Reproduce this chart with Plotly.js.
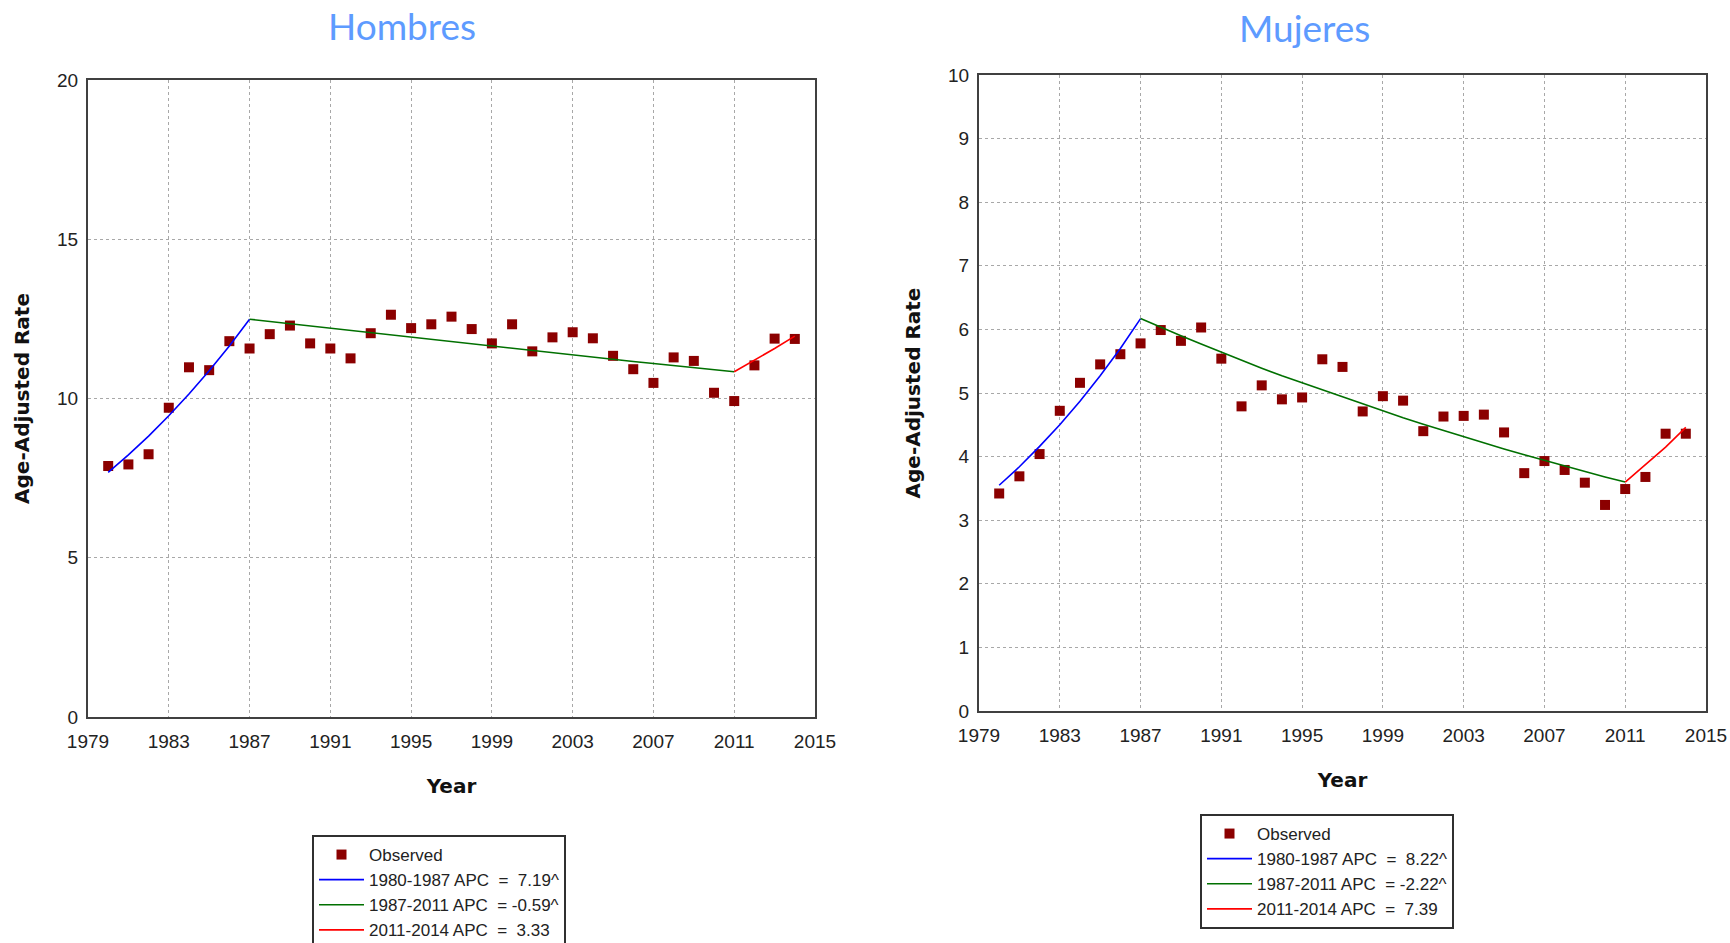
<!DOCTYPE html>
<html>
<head>
<meta charset="utf-8">
<script src="https://cdn.plot.ly/plotly-3.0.1.min.js"></script>
<style>
  html, body { margin: 0; padding: 0; background: #ffffff; }
  #chart { width: 1730px; height: 943px; }
</style>
</head>
<body>
<div id="chart"></div>
<script>
// ---------------- data ----------------
const years = [1980,1981,1982,1983,1984,1985,1986,1987,1988,1989,1990,1991,1992,1993,1994,1995,1996,1997,1998,1999,2000,2001,2002,2003,2004,2005,2006,2007,2008,2009,2010,2011,2012,2013,2014];

const hombresObserved = [7.88,7.93,8.25,9.71,10.98,10.89,11.80,11.57,12.02,12.29,11.73,11.57,11.26,12.05,12.63,12.21,12.33,12.57,12.18,11.73,12.33,11.48,11.92,12.08,11.89,11.34,10.92,10.49,11.29,11.18,10.18,9.92,11.04,11.88,11.87];
const mujeresObserved = [3.42,3.69,4.04,4.72,5.16,5.45,5.61,5.78,5.99,5.82,6.03,5.54,4.79,5.12,4.90,4.93,5.53,5.41,4.71,4.95,4.88,4.40,4.63,4.64,4.66,4.38,3.74,3.93,3.79,3.59,3.24,3.49,3.68,4.36,4.36];

const seg1Years = [1980,1981,1982,1983,1984,1985,1986,1987];
const seg2Years = [1987,1988,1989,1990,1991,1992,1993,1994,1995,1996,1997,1998,1999,2000,2001,2002,2003,2004,2005,2006,2007,2008,2009,2010,2011];
const seg3Years = [2011,2012,2013,2014];

const hombresFit1 = [7.68,8.23,8.82,9.46,10.14,10.87,11.65,12.49];
const hombresFit2 = [12.49,12.42,12.34,12.27,12.20,12.13,12.06,11.98,11.91,11.84,11.77,11.70,11.64,11.57,11.50,11.43,11.36,11.30,11.23,11.16,11.10,11.03,10.97,10.90,10.84];
const hombresFit3 = [10.84,11.20,11.57,11.96];

const mujeresFit1 = [3.55,3.84,4.16,4.50,4.87,5.27,5.70,6.17];
const mujeresFit2 = [6.17,6.03,5.90,5.77,5.64,5.52,5.39,5.27,5.16,5.04,4.93,4.82,4.71,4.61,4.51,4.41,4.31,4.21,4.12,4.03,3.94,3.85,3.77,3.68,3.60];
const mujeresFit3 = [3.60,3.87,4.15,4.46];

const hombresLabels = ["Observed", "1980-1987 APC\u00a0\u00a0=\u00a0\u00a07.19^", "1987-2011 APC\u00a0\u00a0=\u00a0-0.59^", "2011-2014 APC\u00a0\u00a0=\u00a0\u00a03.33"];
const mujeresLabels = ["Observed", "1980-1987 APC\u00a0\u00a0=\u00a0\u00a08.22^", "1987-2011 APC\u00a0\u00a0=\u00a0-2.22^", "2011-2014 APC\u00a0\u00a0=\u00a0\u00a07.39"];

const panelTitles = ["Hombres", "Mujeres"];
const xTicks = [1979,1983,1987,1991,1995,1999,2003,2007,2011,2015];
const yTicksH = [0,5,10,15,20];
const yTicksM = [0,1,2,3,4,5,6,7,8,9,10];

// ---------------- styles ----------------
const markerColor = '#8b0000';
const c1 = '#0000ff', c2 = '#007000', c3 = '#ff0000';
const tickFont = { family: 'Liberation Sans, Arial, sans-serif', size: 19, color: '#222222' };
const axTitleFont = { family: 'DejaVu Sans, Verdana, sans-serif', size: 20, color: '#111111', weight: 'bold' };

function obs(y, xa, ya, leg, name) {
  return { x: years, y: y, xaxis: xa, yaxis: ya, legend: leg, name: name, type: 'scatter', mode: 'markers',
    marker: { symbol: 'square', size: 10, color: markerColor } };
}
function fit(x, y, xa, ya, leg, name, color) {
  return { x: x, y: y, xaxis: xa, yaxis: ya, legend: leg, name: name, type: 'scatter', mode: 'lines',
    line: { color: color, width: 1.6 } };
}

const traces = [
  obs(hombresObserved, 'x', 'y', 'legend', hombresLabels[0]),
  fit(seg1Years, hombresFit1, 'x', 'y', 'legend', hombresLabels[1], c1),
  fit(seg2Years, hombresFit2, 'x', 'y', 'legend', hombresLabels[2], c2),
  fit(seg3Years, hombresFit3, 'x', 'y', 'legend', hombresLabels[3], c3),
  obs(mujeresObserved, 'x2', 'y2', 'legend2', mujeresLabels[0]),
  fit(seg1Years, mujeresFit1, 'x2', 'y2', 'legend2', mujeresLabels[1], c1),
  fit(seg2Years, mujeresFit2, 'x2', 'y2', 'legend2', mujeresLabels[2], c2),
  fit(seg3Years, mujeresFit3, 'x2', 'y2', 'legend2', mujeresLabels[3], c3)
];

const W = 1730, H = 943;
function xAxis(l, r, anchor) {
  return {
    domain: [l / W, r / W], anchor: anchor, range: [1979, 2015], tickmode: 'array', tickvals: xTicks,
    showgrid: true, gridcolor: '#a8a8a8', griddash: 'dot', gridwidth: 1,
    showline: true, linecolor: '#404040', linewidth: 2, mirror: true, zeroline: false,
    ticks: '', tickfont: tickFont, ticklabelstandoff: 6,
    title: { text: 'Year', font: axTitleFont, standoff: 28 }
  };
}
function yAxis(t, b, anchor, max, vals) {
  return {
    domain: [1 - b / H, 1 - t / H], anchor: anchor, range: [0, max], tickmode: 'array', tickvals: vals,
    showgrid: true, gridcolor: '#a8a8a8', griddash: 'dot', gridwidth: 1,
    showline: true, linecolor: '#404040', linewidth: 2, mirror: true, zeroline: false,
    ticks: '', tickfont: tickFont, ticklabelstandoff: 4,
    title: { text: 'Age-Adjusted Rate', font: axTitleFont, standoff: 22 }
  };
}

const legendBase = {
  xanchor: 'left', yanchor: 'top', bgcolor: '#ffffff', bordercolor: '#303030', borderwidth: 2,
  font: { family: 'Liberation Sans, Arial, sans-serif', size: 17, color: '#222222' },
  tracegroupgap: 0, traceorder: 'normal', itemclick: false, itemdoubleclick: false, itemwidth: 45
};

const layout = {
  width: W, height: H,
  margin: { l: 0, r: 0, t: 0, b: 0, autoexpand: false },
  paper_bgcolor: '#ffffff', plot_bgcolor: '#ffffff',
  showlegend: true,
  xaxis: xAxis(88, 815, 'y'),
  yaxis: yAxis(80, 717, 'x', 20, yTicksH),
  xaxis2: xAxis(979, 1706, 'y2'),
  yaxis2: yAxis(75, 711, 'x2', 10, yTicksM),
  legend: Object.assign({}, legendBase, { x: 312 / W, y: 1 - 835 / H }),
  legend2: Object.assign({}, legendBase, { x: 1200 / W, y: 1 - 814 / H }),
  annotations: [
    { text: panelTitles[0], xref: 'paper', yref: 'paper', x: 402 / W, y: 1 - 25 / H, xanchor: 'center', yanchor: 'middle',
      showarrow: false, font: { family: 'Lato, Open Sans, sans-serif', size: 37, color: '#5e9bff' } },
    { text: panelTitles[1], xref: 'paper', yref: 'paper', x: 1304 / W, y: 1 - 28 / H, xanchor: 'center', yanchor: 'middle',
      showarrow: false, font: { family: 'Lato, Open Sans, sans-serif', size: 37, color: '#5e9bff' } }
  ]
};

Plotly.newPlot('chart', traces, layout, { displayModeBar: false, staticPlot: true });
</script>
</body>
</html>
